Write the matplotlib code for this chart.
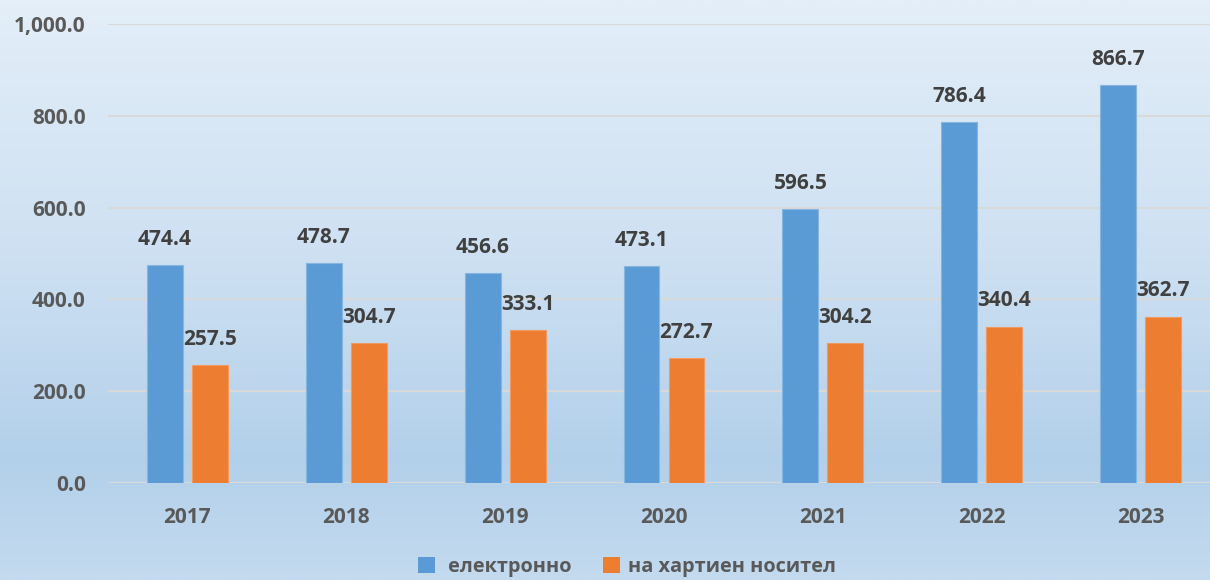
import matplotlib
matplotlib.use("Agg")
import matplotlib.pyplot as plt
import numpy as np
from matplotlib.colors import LinearSegmentedColormap
from matplotlib.patches import Patch

years = ["2017", "2018", "2019", "2020", "2021", "2022", "2023"]
electronic = [474.4, 478.7, 456.6, 473.1, 596.5, 786.4, 866.7]
paper = [257.5, 304.7, 333.1, 272.7, 304.2, 340.4, 362.7]
series_names = [" електронно", "на хартиен носител"]
yticks = [0, 200, 400, 600, 800, 1000]

plt.rcParams['font.family'] = ['Open Sans', 'DejaVu Sans']

W, H = 1210, 580
fig = plt.figure(figsize=(W / 100, H / 100), dpi=100)

# background gradient
bg = fig.add_axes([0, 0, 1, 1], zorder=-10)
cmap = LinearSegmentedColormap.from_list(
    "bg", [(0.0, "#e3eef8"), (0.45, "#cde0f2"), (0.79, "#b3d0ea"), (1.0, "#c3daef")])
grad = np.linspace(0, 1, 400).reshape(-1, 1)
bg.imshow(grad, aspect="auto", cmap=cmap, extent=[0, 1, 0, 1], origin="upper")
bg.set_axis_off()

ax = fig.add_axes([108 / W, 97 / H, 1112 / W, 459 / H])
ax.patch.set_alpha(0)
x = np.arange(len(years))
bw = 0.226
off = 0.1415
b1 = ax.bar(x - off, electronic, bw, color="#5b9bd5", edgecolor="#86b5e0", linewidth=0.8, zorder=3,
            label=series_names[0])
b2 = ax.bar(x + off, paper, bw, color="#ed7d31", edgecolor="#f09a62", linewidth=0.8, zorder=3,
            label=series_names[1])

for bars, vals in ((b1, electronic), (b2, paper)):
    for r, v in zip(bars, vals):
        ax.annotate(f"{v:.1f}", (r.get_x() + r.get_width() / 2, r.get_height()),
                    xytext=(0, 11), textcoords="offset points", ha="center", va="bottom",
                    fontsize=15, fontweight="bold", color="#404040")

ax.set_xlim(-0.5, len(years) - 0.5)
ax.set_ylim(0, 1000)
ax.set_yticks(yticks)
ax.set_yticklabels([f"{v:,.1f}" for v in yticks])
ax.set_xticks(x)
ax.set_xticklabels(years)
ax.grid(axis="y", color="#d9d9d9", linewidth=1.4, zorder=0)
ax.tick_params(axis="both", length=0, labelsize=15, labelcolor="#595959")
ax.tick_params(axis="y", pad=16)
ax.tick_params(axis="x", pad=17)
for lab in ax.get_xticklabels() + ax.get_yticklabels():
    lab.set_fontweight("bold")
for s in ax.spines.values():
    s.set_visible(False)

handles = [Patch(facecolor="#5b9bd5"), Patch(facecolor="#ed7d31")]
fig.legend(handles, series_names, loc="center", bbox_to_anchor=(627 / W, 1 - 567 / H),
           ncol=2, frameon=False, handlelength=0.85, handleheight=0.85,
           handletextpad=0.4, columnspacing=1.6,
           prop={"weight": "bold", "size": 14.3})
for t in fig.legends[0].get_texts():
    t.set_color("#595959")

fig.savefig("out.png", dpi=100)
